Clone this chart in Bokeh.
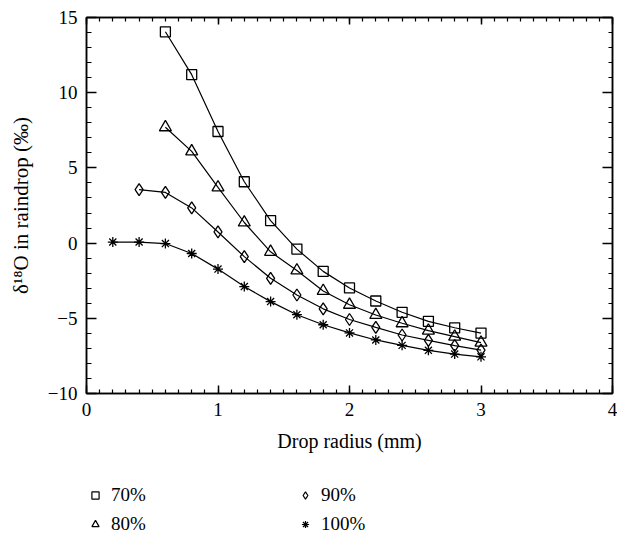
import numpy as np
from bokeh.plotting import figure
from bokeh.layouts import column
from bokeh.models import FixedTicker, LinearAxis, Legend, LegendItem, Range1d
from bokeh.embed import file_html
from bokeh.resources import INLINE

# ---- data ----
x70 = [0.6, 0.8, 1.0, 1.2, 1.4, 1.6, 1.8, 2.0, 2.2, 2.4, 2.6, 2.8, 3.0]
y70 = [14.05, 11.2, 7.42, 4.08, 1.5, -0.4, -1.88, -2.98, -3.85, -4.6, -5.2, -5.63, -5.98]

x80 = [0.6, 0.8, 1.0, 1.2, 1.4, 1.6, 1.8, 2.0, 2.2, 2.4, 2.6, 2.8, 3.0]
y80 = [7.7, 6.1, 3.7, 1.37, -0.58, -1.82, -3.18, -4.1, -4.78, -5.33, -5.82, -6.22, -6.62]

x90 = [0.4, 0.6, 0.8, 1.0, 1.2, 1.4, 1.6, 1.8, 2.0, 2.2, 2.4, 2.6, 2.8, 3.0]
y90 = [3.55, 3.37, 2.34, 0.74, -0.9, -2.34, -3.45, -4.37, -5.08, -5.6, -6.11, -6.47, -6.82, -7.11]

x100 = [0.2, 0.4, 0.6, 0.8, 1.0, 1.2, 1.4, 1.6, 1.8, 2.0, 2.2, 2.4, 2.6, 2.8, 3.0]
y100 = [0.07, 0.07, -0.03, -0.69, -1.73, -2.89, -3.89, -4.76, -5.43, -5.97, -6.44, -6.8, -7.13, -7.38, -7.56]

series_labels = ["70%", "80%", "90%", "100%"]
markers = ["square", "triangle", "diamond", "asterisk"]
x_ticks = [0, 1, 2, 3, 4]
y_ticks = [-10, -5, 0, 5, 10, 15]
y_tick_labels = {-10: "\u221210", -5: "\u22125", 0: "0", 5: "5", 10: "10", 15: "15"}

FONT = "Liberation Serif"
series = [(x70, y70, markers[0], 10), (x80, y80, markers[1], 12),
          (x90, y90, markers[2], 12), (x100, y100, markers[3], 10)]

p = figure(width=617, height=458, output_backend="svg", toolbar_location=None,
           x_range=Range1d(0, 4), y_range=Range1d(-10, 15),
           min_border_left=86, min_border_right=5, min_border_top=17,
           min_border_bottom=65)
p.grid.visible = False
p.outline_line_color = "black"
p.outline_line_width = 1.5
p.background_fill_color = "white"
p.border_fill_color = "white"

xt = FixedTicker(ticks=x_ticks, minor_ticks=list(np.round(np.arange(0, 4.001, 0.1), 2)))
yt = FixedTicker(ticks=y_ticks, minor_ticks=list(range(-10, 16)))


def style(ax, major_in, minor_in, labels=True, label_size="20px", ticks=None):
    ax.axis_line_color = "black"
    ax.axis_line_width = 1.5
    ax.major_tick_in = major_in
    ax.major_tick_out = 0
    ax.minor_tick_in = minor_in
    ax.minor_tick_out = 0
    ax.major_tick_line_color = "black"
    ax.minor_tick_line_color = "black"
    ax.major_tick_line_width = 1.5
    ax.minor_tick_line_width = 1.2
    ax.major_label_text_font = FONT
    ax.major_label_text_color = "black"
    if labels:
        ax.major_label_text_font_size = "19px"
        ax.major_label_standoff = 9
        ax.axis_label_text_font = FONT
        ax.axis_label_text_font_size = label_size
        ax.axis_label_text_font_style = "normal"
        ax.axis_label_text_color = "black"
    else:
        # mirror axis: ticks only, no tick labels
        ax.major_label_overrides = {t: "" for t in ticks}
        ax.major_label_text_font_size = "1px"
        ax.major_label_standoff = 0


xa = p.xaxis[0]
xa.ticker = xt
xa.axis_label = "Drop radius (mm)"
xa.axis_label_standoff = 11
style(xa, 8, 4)

ya = p.yaxis[0]
ya.ticker = yt
ya.major_label_overrides = y_tick_labels
ya.axis_label = "\u03b4\u00b9\u2078O in raindrop (\u2030)"
ya.axis_label_standoff = 12
style(ya, 10, 5, label_size="21px")

top = LinearAxis(ticker=xt)
style(top, 7, 4, labels=False, ticks=x_ticks)
p.add_layout(top, "above")
right = LinearAxis(ticker=yt)
style(right, 10, 4, labels=False, ticks=y_ticks)
p.add_layout(right, "right")

for xs, ys, marker, size in series:
    p.line(xs, ys, line_color="black", line_width=1.2)
    p.scatter(xs, ys, marker=marker, size=size, fill_color=None,
              line_color="black", line_width=1.3)

# ---- legend panel below the chart (its renderers are hidden; only keys show) ----
p2 = figure(width=617, height=77, output_backend="svg", toolbar_location=None,
            x_range=Range1d(0, 4), y_range=Range1d(-10, 15),
            x_axis_type=None, y_axis_type=None, min_border=0)
p2.grid.visible = False
p2.outline_line_color = None
p2.background_fill_color = "white"
p2.border_fill_color = "white"

leg_renderers = []
for xs, ys, marker, size in series:
    r = p2.scatter(xs, ys, marker=marker, size=size, fill_color=None,
                   line_color="black", line_width=1.2, visible=False)
    leg_renderers.append(r)

legend = Legend(items=[LegendItem(label=lab, renderers=[r]) for lab, r in zip(series_labels, leg_renderers)],
                ncols=2, orientation="vertical", location=(0, 0),
                border_line_color=None, background_fill_alpha=0,
                inactive_fill_alpha=0,
                padding=0, margin=0, spacing=7,
                glyph_width=18, glyph_height=18, label_standoff=7,
                label_width=178, label_height=18,
                label_text_font=FONT, label_text_font_size="19px",
                label_text_color="black")
p2.add_layout(legend)

open("out.html", "w").write(file_html(column(p, p2, spacing=0), INLINE))
